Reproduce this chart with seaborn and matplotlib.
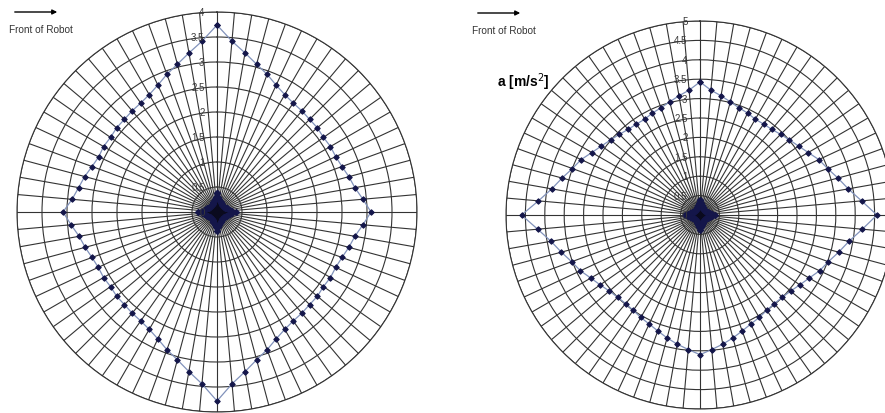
import numpy as np
import pandas as pd
import matplotlib.pyplot as plt
import seaborn as sns

# --- data (one value every 5 degrees, clockwise from top) ---
angles = list(range(0, 360, 5))

left_values = [
    3.74, 3.43, 3.23, 3.06, 2.93, 2.80, 2.71, 2.66, 2.64, 2.62, 2.62, 2.60, 2.62, 2.62, 2.66, 2.73, 2.80, 2.93,
    3.08, 2.93, 2.80, 2.73, 2.66, 2.62, 2.62, 2.60, 2.62, 2.62, 2.64, 2.66, 2.71, 2.80, 2.93, 3.06, 3.24, 3.45,
    3.78, 3.45, 3.24, 3.06, 2.93, 2.80, 2.71, 2.66, 2.64, 2.62, 2.62, 2.60, 2.62, 2.62, 2.66, 2.73, 2.80, 2.93,
    3.08, 2.91, 2.81, 2.74, 2.66, 2.61, 2.62, 2.60, 2.62, 2.62, 2.64, 2.66, 2.71, 2.80, 2.93, 3.06, 3.23, 3.43,
]

right_values = [
    3.43, 3.23, 3.12, 3.02, 2.94, 2.90, 2.85, 2.86, 2.88, 2.94, 3.01, 3.10, 3.22, 3.38, 3.50, 3.68, 3.88, 4.18,
    4.56, 4.20, 3.90, 3.70, 3.52, 3.40, 3.25, 3.14, 3.05, 3.00, 2.98, 3.00, 3.05, 3.10, 3.18, 3.28, 3.38, 3.48,
    3.60, 3.48, 3.38, 3.28, 3.18, 3.10, 3.05, 3.00, 2.98, 3.00, 3.05, 3.14, 3.25, 3.40, 3.52, 3.70, 3.90, 4.20,
    4.60, 4.18, 3.88, 3.68, 3.50, 3.38, 3.22, 3.10, 3.01, 2.94, 2.88, 2.86, 2.85, 2.90, 2.94, 3.02, 3.12, 3.23,
]

# small star at the centre of both charts
inner_values = [
    0.38, 0.31, 0.26, 0.23, 0.21, 0.19, 0.18, 0.17, 0.17, 0.17, 0.17, 0.17, 0.18, 0.19, 0.21, 0.23, 0.26, 0.31,
    0.38, 0.31, 0.26, 0.23, 0.21, 0.19, 0.18, 0.17, 0.17, 0.17, 0.17, 0.17, 0.18, 0.19, 0.21, 0.23, 0.26, 0.31,
    0.38, 0.31, 0.26, 0.23, 0.21, 0.19, 0.18, 0.17, 0.17, 0.17, 0.17, 0.17, 0.18, 0.19, 0.21, 0.23, 0.26, 0.31,
    0.38, 0.31, 0.26, 0.23, 0.21, 0.19, 0.18, 0.17, 0.17, 0.17, 0.17, 0.17, 0.18, 0.19, 0.21, 0.23, 0.26, 0.31,
]

left_rmax = 4.0
right_rmax = 5.0
ring_step = 0.5

GRID = '#333333'
LINE = '#8192bb'
MARK = '#14164a'

sns.set_style('white')
plt.rcParams['font.family'] = ['Liberation Sans', 'DejaVu Sans']

W, H = 885, 414
fig = plt.figure(figsize=(W / 100, H / 100), dpi=100)


def closed(vals):
    df = pd.DataFrame({'theta': np.deg2rad(angles + [360]), 'r': vals + vals[:1]})
    return df


def radar(rect, values, rmax):
    ax = fig.add_axes(rect, projection='polar')
    ax.set_theta_zero_location('N')
    ax.set_theta_direction(-1)
    ax.set_ylim(0, rmax)
    ax.set_xticks(np.deg2rad(angles))
    ax.set_xticklabels([])
    rings = np.arange(ring_step, rmax + 0.01, ring_step)
    ax.set_yticks(rings)
    ax.set_yticklabels([])
    ax.tick_params(length=0)
    ax.grid(True, color=GRID, linewidth=0.8)
    ax.spines['polar'].set_color(GRID)
    ax.spines['polar'].set_linewidth(0.8)
    ax.patch.set_alpha(0)

    # outer data series
    sns.lineplot(data=closed(values), x='theta', y='r', ax=ax, sort=False,
                 color=LINE, linewidth=0.9, marker='D', markersize=2.8,
                 markerfacecolor=MARK, markeredgecolor=MARK, zorder=5)
    # centre star
    sns.lineplot(data=closed(inner_values), x='theta', y='r', ax=ax, sort=False,
                 color=MARK, linewidth=1.5, marker='D', markersize=3.2,
                 markerfacecolor=MARK, markeredgecolor=MARK, zorder=5)
    ax.fill(np.deg2rad(angles), inner_values, color='#0a0a1e', zorder=4)
    ax.set_xlabel('')
    ax.set_ylabel('')

    for r in [0.0] + list(rings):
        ax.annotate(f'{r:g}', (0, r), xytext=(-9, 0), textcoords='offset points',
                    ha='right', va='center', fontsize=7, color='#3a3a3a', zorder=6)
    return ax


# left chart: centre (217, 213), radius 200 px
radar([17 / W, 1 / H, 400 / W, 400 / H], left_values, left_rmax)
# right chart: centre (700, 216), radius 194 px (runs past the right edge)
radar([506 / W, 4 / H, 388 / W, 388 / H], right_values, right_rmax)

# "Front of Robot" arrows and captions
for x0, y0 in [(12, 13), (475, 14)]:
    fig.add_artist(plt.Annotation('', xy=((x0 + 48) / W, 1 - y0 / H), xytext=(x0 / W, 1 - y0 / H),
                                  xycoords='figure fraction', textcoords='figure fraction',
                                  arrowprops=dict(arrowstyle='-|>', color='black', lw=1.0,
                                                  mutation_scale=7)))
    fig.text((x0 - 3) / W, 1 - (y0 + 17) / H, 'Front of Robot', fontsize=7.2,
             color='#333333', ha='left', va='center')

fig.text(497 / W, 1 - 82 / H, 'a [m/s$^2$]', fontsize=10, fontweight='bold',
         ha='left', va='center', color='black')

fig.savefig('out.png', dpi=100, facecolor='white')
